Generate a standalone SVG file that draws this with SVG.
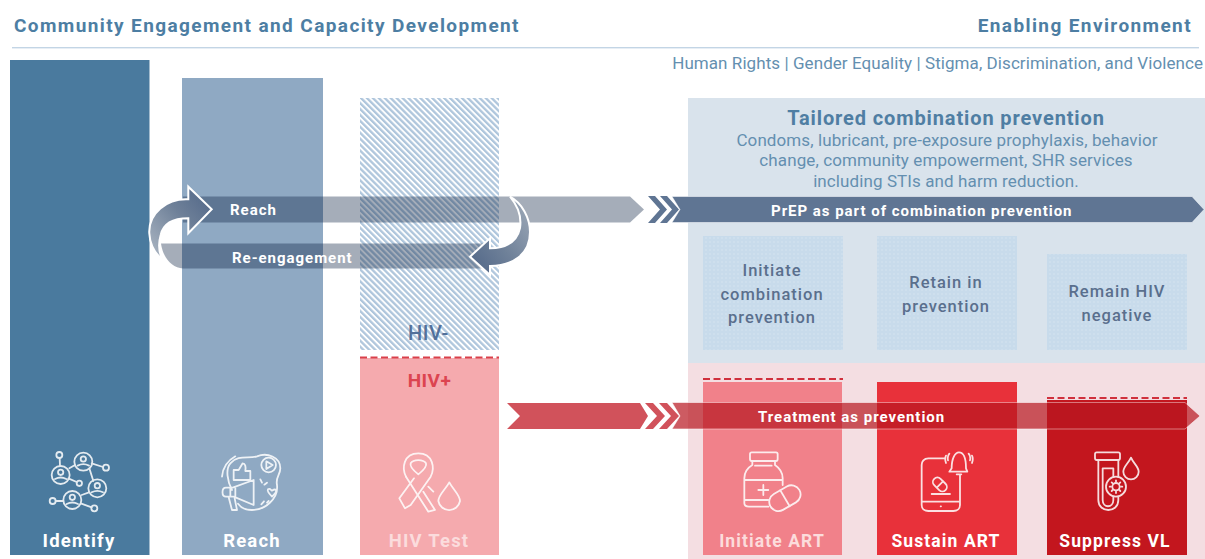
<svg xmlns="http://www.w3.org/2000/svg" width="1205" height="559" viewBox="0 0 1205 559">
<defs>
<pattern id="hatch" width="4.200" height="4.200" patternUnits="userSpaceOnUse" patternTransform="rotate(-45)"><rect width="4.200" height="4.200" fill="#ffffff"/><rect width="2.300" height="4.200" fill="#afc6dc"/></pattern>
<pattern id="dots" width="4" height="4" patternUnits="userSpaceOnUse"><rect width="4" height="4" fill="#c8dbeb"/><circle cx="2" cy="2" r=".8" fill="#d6e4f0"/></pattern>
<linearGradient id="gl" x1="0" y1="1" x2="1" y2="0"><stop offset="0" stop-color="#b0bac6"/><stop offset=".55" stop-color="#6f8199"/><stop offset="1" stop-color="#4e6486"/></linearGradient>
<linearGradient id="gr" x1="1" y1="0" x2="0" y2="1"><stop offset="0" stop-color="#a2adbb"/><stop offset=".55" stop-color="#6f8199"/><stop offset="1" stop-color="#4e6486"/></linearGradient>
</defs>
<style>
text{font-family:"Roboto","Liberation Sans",sans-serif}
.h{font-size:19px;fill:#4d7ea3;font-weight:700;letter-spacing:1.4px}
.sub{font-size:17px;fill:#648fb0;letter-spacing:.07px}
.n{font-size:16.5px;font-weight:500;fill:#5a6f8d;text-anchor:middle;letter-spacing:1px}
.lab{font-size:18.5px;font-weight:700;fill:#fff;text-anchor:middle;letter-spacing:1.2px}
.lab2{font-size:17.5px;font-weight:700;fill:#fff;text-anchor:middle;letter-spacing:1.1px}
.arr{font-size:15px;font-weight:700;fill:#fff;letter-spacing:.97px}
.ic{fill:none;stroke:#fff;stroke-width:5.400;stroke-linecap:round;stroke-linejoin:round;opacity:.85}
</style>
<rect width="1205" height="559" fill="#fff"/>
<g id="header">
<text x="14" y="32" class="h">Community Engagement and Capacity Development</text>
<text x="1192" y="32" class="h" text-anchor="end">Enabling Environment</text>
<rect x="12" y="47" width="1187" height="1.4" fill="#c3d5e5"/>
<text x="1203" y="69" class="sub" text-anchor="end">Human Rights | Gender Equality | Stigma, Discrimination, and Violence</text>
</g>
<g id="panel-prevention"><rect x="688" y="98" width="517" height="265" fill="#d9e3ec"/></g>
<g id="panel-treatment"><rect x="688" y="363" width="517" height="196" fill="#f4dee2"/></g>
<g id="identify">
<rect x="10" y="60" width="139.500" height="495" fill="#4a7a9e"/>
<g class="ic" transform="translate(40 445) scale(.3333)">
<circle cx="130" cy="50" r="27"/><circle cx="130" cy="42" r="8"/><path d="M113 62q17-9 34 0"/>
<circle cx="62" cy="90" r="27"/><circle cx="62" cy="82" r="8"/><path d="M45 102q17-9 34 0"/>
<circle cx="172" cy="130" r="27"/><circle cx="172" cy="122" r="8"/><path d="M155 142q17-9 34 0"/>
<circle cx="97" cy="165" r="27"/><circle cx="97" cy="157" r="8"/><path d="M80 177q17-9 34 0"/>
<circle cx="58" cy="30" r="9"/><path d="M59 39l1 24"/>
<circle cx="198" cy="68" r="9"/><path d="M155 55l34 11"/>
<circle cx="118" cy="115" r="8"/><path d="M85 100l25 11"/>
<circle cx="38" cy="168" r="9"/><path d="M47 168h23"/>
<circle cx="163" cy="190" r="9"/><path d="M122 175l33 12"/>
<path d="M148 70l12 38M88 70l17-10M125 150l22-8"/>
</g>
<text x="79" y="547" class="lab">Identify</text>
</g>
<g id="reach">
<rect x="182" y="78" width="141" height="477" fill="#8fa9c3"/>
<g class="ic" transform="translate(212 445) scale(.3333)">
<path d="M60 135C46 110 40 72 55 55 78 28 110 42 135 34 165 22 205 35 205 70 205 90 190 95 195 120 200 160 160 195 120 195 100 195 88 190 78 176"/>
<path d="M30 95C32 72 45 48 70 34"/>
<circle cx="170" cy="60" r="22"/><path d="M163 49l19 11-19 12z"/>
<path d="M65 105V75H80L92 55C100 55 102 65 100 78H115V105Z"/>
<path d="M62 128H42C28 128 28 155 42 155H65L125 180 125 105ZM50 157l10 38H75L68 160M55 128v27M70 128v27"/>
<path d="M168 133c6-4 9 2 12 4 3-2 8-6 12-2 3 5-6 14-12 20-6-6-16-16-12-22z"/>
<path d="M145 103l5 10M165 113l-8 6M148 178l8-9M170 168l-5 5"/>
</g>
<text x="252" y="547" class="lab">Reach</text>
</g>
<g id="hiv-test">
<rect x="360" y="98" width="139" height="252" fill="url(#hatch)"/>
<rect x="360" y="358" width="139" height="197" fill="#f5aaae"/>
<line x1="360" y1="357.500" x2="499" y2="357.500" stroke="#d9404a" stroke-width="2" stroke-dasharray="7 3.500"/>
<text x="428.500" y="340" font-size="20" font-weight="500" fill="#52709a" text-anchor="middle" style="letter-spacing:.5px">HIV-</text>
<text x="429.500" y="387" font-size="19" font-weight="700" fill="#dc4450" text-anchor="middle" style="letter-spacing:.5px">HIV+</text>
<g class="ic" transform="translate(390 445) scale(.3333)">
<path d="M48 95C35 70 40 25 85 25 130 25 135 70 122 95L62 180 45 190 28 160 72 100"/>
<path d="M62 55C70 42 100 42 108 55 112 65 95 80 85 88 75 80 58 65 62 55Z"/>
<path d="M48 95L115 200 135 195 100 140M115 125l15 15"/>
<path d="M178 112C165 135 145 150 145 168A33 33 0 0 0 210 168C210 150 190 135 178 112Z"/>
</g>
<text x="429" y="547" class="lab" style="fill:#fbdcdd">HIV Test</text>
</g>
<g id="initiate-combination"><rect x="703" y="236" width="140" height="114" fill="url(#dots)"/>
<text class="n" x="772" y="276">Initiate</text><text class="n" x="772" y="300">combination</text><text class="n" x="772" y="323">prevention</text></g>
<g id="retain-prevention"><rect x="877" y="236" width="140" height="114" fill="url(#dots)"/>
<text class="n" x="946" y="288">Retain in</text><text class="n" x="946" y="312">prevention</text></g>
<g id="remain-negative"><rect x="1047" y="254" width="140" height="96" fill="url(#dots)"/>
<text class="n" x="1117" y="297">Remain HIV</text><text class="n" x="1117" y="321">negative</text></g>
<g id="initiate-art">
<rect x="703" y="382" width="139" height="173" fill="#f1818a"/>
<line x1="703" y1="379" x2="843" y2="379" stroke="#d0303c" stroke-width="2" stroke-dasharray="7 3.500"/>
<g class="ic" transform="translate(735 445) scale(.3333)">
<rect x="45" y="22" width="83" height="26" rx="5"/>
<path d="M52 48V60C35 70 28 85 28 100V175C28 182 35 185 42 185H100M120 48V60C135 70 143 85 143 100V120M60 62H110M28 105H143M28 165H100"/>
<path d="M85 120v30M70 135h30"/>
<rect x="100" y="132" width="100" height="55" rx="27.500" transform="rotate(-30 150 160)"/>
<path d="M136 136l28 48"/>
</g>
<text x="772" y="547" class="lab2" style="fill:#fcdcdc">Initiate ART</text>
</g>
<g id="sustain-art">
<rect x="877" y="382" width="140" height="173" fill="#e8313a"/>
<g class="ic" transform="translate(910 445) scale(.3333)">
<path d="M105 40H55C42 40 35 50 35 60V180C35 192 45 198 55 198H130C142 198 150 190 150 180V90M35 170H150M92 184h1"/>
<path d="M125 70C125 40 135 22 147 22 160 22 168 40 168 70L172 80H118ZM140 88h14"/>
<path d="M118 26c-5 6-6 12-4 20M108 32c-3 6-3 14 0 22M176 26c5 6 6 12 4 20M186 32c3 6 3 14 0 22"/>
<rect x="66" y="105" width="48" height="27" rx="13.500" transform="rotate(45 90 118)"/><path d="M81 127l18-18M65 147h55"/>
</g>
<text x="946" y="547" class="lab2">Sustain ART</text>
</g>
<g id="suppress-vl">
<rect x="1047" y="400" width="140" height="155" fill="#c3161e"/>
<line x1="1047" y1="398" x2="1187" y2="398" stroke="#d0303c" stroke-width="2" stroke-dasharray="7 3.500"/>
<g class="ic" transform="translate(1080 445) scale(.3333)">
<rect x="45" y="22" width="75" height="23" rx="5"/>
<path d="M55 45V165C55 205 115 205 115 165V155M115 45V95M68 70H100V95M68 70V165C68 190 100 190 100 165V155"/>
<circle cx="108" cy="125" r="30"/><circle cx="108" cy="125" r="11"/>
<path d="M108 106v4M108 140v4M89 125h4M123 125h4M95 112l3 3M118 135l3 3M121 112l-3 3M95 138l3-3"/>
<path d="M153 38C145 55 130 65 130 80A23 23 0 0 0 176 80C176 65 160 55 153 38Z"/>
</g>
<text x="1115" y="547" class="lab2">Suppress VL</text>
</g>
<g id="connectors">
<path d="M183 196.500H630L644 209.500 630 222.500H183Z" fill="#0c2040" opacity=".37"/>
<path d="M648 196h7l12 13.500-12 13.500h-7l12-13.500zM660 196h7l12 13.500-12 13.500h-7l12-13.500z" fill="#5f7593"/>
<path d="M672 196.500H1192L1204 209.500 1192 222.500H672L680 209.500Z" fill="#5f7593" stroke="#fff" stroke-opacity=".5" stroke-width="1"/>
<path d="M161 243.500H490V268.500H183C172 268 163 258 161 243.500Z" fill="#0c2040" opacity=".37"/>
<path id="arrow-left" d="M188.300 199.300C166.700 198.300 148.300 213.300 149.300 233.300 150 246.700 156.700 255 162.700 260 158.300 251.700 158.300 243.300 160.700 235 163.300 223.300 173.300 218.300 188.300 218.300V233.300L211.700 209.300 188.300 186.700Z" fill="url(#gl)" stroke="#fff" stroke-width="2"/>
<path id="arrow-right" d="M510 196.700C522 203 530 218 530 232 530 255 512 266 490 266V275L470 256.700 490 238.300V248.300C505 248 517 242 520 228 522 215 517 205 510 196.700Z" fill="url(#gr)" stroke="#fff" stroke-width="2"/>
<path d="M507 403H640L648 416 640 429H507L520 416Z" fill="#d1525b"/>
<path d="M645 403h8l12 13-12 13h-8l12-13zM659 403h8l12 13-12 13h-8l12-13z" fill="#d1525b"/>
<path d="M672 402.500H1185L1200 416 1185 429H672L680 416Z" fill="#b81720" opacity=".7" stroke="#fff" stroke-opacity=".6" stroke-width="1"/>
</g>
<g id="connector-labels">
<text x="230" y="215" class="arr">Reach</text>
<text x="232" y="263" class="arr">Re-engagement</text>
<text x="771" y="216" class="arr">PrEP as part of combination prevention</text>
<text x="758" y="422" class="arr">Treatment as prevention</text>
</g>
<g id="tailored-text" text-anchor="middle">
<text x="946" y="125" font-size="20" font-weight="700" fill="#4f7ea3" style="letter-spacing:.88px">Tailored combination prevention</text>
<text x="947" y="146" class="sub" style="letter-spacing:.1px">Condoms, lubricant, pre-exposure prophylaxis, behavior</text>
<text x="946" y="166" class="sub" style="letter-spacing:.1px">change, community empowerment, SHR services</text>
<text x="946" y="187" class="sub" style="letter-spacing:.1px">including STIs and harm reduction.</text>
</g>
</svg>
